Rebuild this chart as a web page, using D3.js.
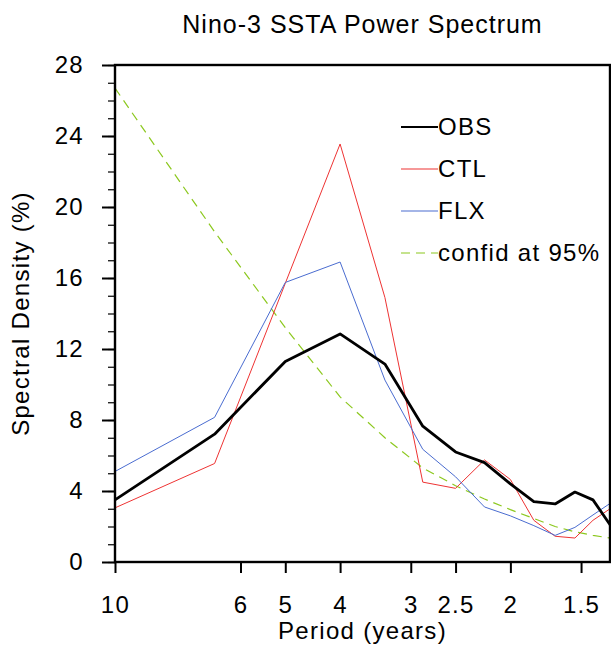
<!DOCTYPE html>
<html>
<head>
<meta charset="utf-8">
<script src="https://cdn.jsdelivr.net/npm/d3@7"></script>
<style>
  body { margin: 0; background: #fff; }
  text { font-family: "Liberation Sans", Arial, Helvetica, sans-serif; fill: #000; letter-spacing: 1.3px; }
</style>
</head>
<body>
<div id="chart"></div>
<script>
// period (years) of each spectral estimate
var periods = [10, 6.667, 5, 4, 3.333, 2.857, 2.5, 2.222, 2, 1.818, 1.667, 1.538, 1.429, 1.333];
var obs    = [3.5, 7.2, 11.3, 12.85, 11.15, 7.65, 6.2, 5.6, 4.4, 3.4, 3.27, 3.94, 3.5, 2.1];
var ctl    = [3.05, 5.55, 15.7, 23.55, 14.9, 4.5, 4.15, 5.75, 4.65, 2.35, 1.45, 1.35, 2.35, 3.0];
var flx    = [5.1, 8.15, 15.75, 16.9, 10.25, 6.35, 4.8, 3.1, 2.6, 2.05, 1.5, 1.95, 2.65, 3.3];
var confid = [26.7, 18.6, 13.2, 9.3, 7.0, 5.3, 4.3, 3.55, 2.95, 2.45, 2.0, 1.7, 1.5, 1.35];

var xTicks = [10, 6, 5, 4, 3, 2.5, 2, 1.5];
var yTicks = [0, 4, 8, 12, 16, 20, 24, 28];
var yMinor = d3.range(0, 29, 1);

var seriesNames = ["OBS", "CTL", "FLX", "confid at 95%"];

function init() {
    var width = 611, height = 657;
    var left = 115, right = 610, top = 65, bottom = 562;

    var svg = d3.select("#chart")
        .append("svg")
        .attr("width", width)
        .attr("height", height);

    // log period axis, long periods on the left
    var x = d3.scaleLog().domain([10, 1.3333]).range([left, right]);
    var y = d3.scaleLinear().domain([0, 28]).range([bottom, top]);

    svg.append("clipPath").attr("id", "plotclip")
        .append("rect")
        .attr("x", left).attr("y", top)
        .attr("width", right - left).attr("height", bottom - top);

    var series = [
        { name: seriesNames[0], values: obs,    color: "#000000", width: 2.8, dash: null },
        { name: seriesNames[1], values: ctl,    color: "#ee3333", width: 1,   dash: null },
        { name: seriesNames[2], values: flx,    color: "#4a6cd0", width: 1,   dash: null },
        { name: seriesNames[3], values: confid, color: "#8cc81e", width: 1.2, dash: "9,6" }
    ];

    var line = d3.line()
        .x((d, i) => x(periods[i]))
        .y(d => y(d));

    var plot = svg.append("g").attr("clip-path", "url(#plotclip)");
    // confidence curve first, then the spectra
    [3, 1, 2, 0].forEach(k => {
        var s = series[k];
        plot.append("path")
            .datum(s.values)
            .attr("d", line)
            .attr("fill", "none")
            .attr("stroke", s.color)
            .attr("stroke-width", s.width)
            .attr("stroke-dasharray", s.dash)
            .attr("stroke-linejoin", "round");
    });

    // left axis with minor ticks
    var yMinorAxis = d3.axisLeft(y).tickValues(yMinor).tickSize(7).tickFormat("");
    svg.append("g")
        .attr("transform", `translate(${left},0)`)
        .call(yMinorAxis)
        .call(g => g.select(".domain").remove())
        .selectAll("line").attr("stroke", "#000").attr("stroke-width", 1.2);

    var yAxis = d3.axisLeft(y).tickValues(yTicks).tickSize(13).tickPadding(18);
    svg.append("g")
        .attr("transform", `translate(${left},0)`)
        .call(yAxis)
        .call(g => g.select(".domain").remove())
        .call(g => g.selectAll("line").attr("stroke", "#000").attr("stroke-width", 2))
        .call(g => g.selectAll("text").style("font-size", "24px").attr("fill", "#000"));

    var xAxis = d3.axisBottom(x).tickValues(xTicks).tickSize(11).tickPadding(23)
        .tickFormat(d => String(d));
    svg.append("g")
        .attr("transform", `translate(0,${bottom})`)
        .call(xAxis)
        .call(g => g.select(".domain").remove())
        .call(g => g.selectAll("line").attr("stroke", "#000").attr("stroke-width", 2))
        .call(g => g.selectAll("text").style("font-size", "24px").attr("fill", "#000"));

    // frame
    svg.append("rect")
        .attr("x", left).attr("y", top)
        .attr("width", right - left).attr("height", bottom - top)
        .attr("fill", "none")
        .attr("stroke", "#000")
        .attr("stroke-width", 2.4);

    // legend
    var legend = svg.append("g").attr("transform", "translate(401,127)");
    series.forEach((s, i) => {
        var row = legend.append("g").attr("transform", `translate(0,${i * 42})`);
        row.append("line")
            .attr("x1", 0).attr("x2", 37)
            .attr("stroke", s.color)
            .attr("stroke-width", i === 0 ? 2 : 1.2)
            .attr("stroke-dasharray", s.dash);
        row.append("text")
            .attr("x", 37)
            .attr("dy", "0.35em")
            .style("font-size", "24px")
            .text(s.name);
    });

    // titles
    svg.append("text")
        .attr("x", (left + right) / 2)
        .attr("y", 33)
        .attr("text-anchor", "middle")
        .style("font-size", "25px")
        .style("letter-spacing", "1px")
        .text("Nino-3 SSTA Power Spectrum");

    svg.append("text")
        .attr("x", (left + right) / 2)
        .attr("y", 639)
        .attr("text-anchor", "middle")
        .style("font-size", "24px")
        .text("Period (years)");

    svg.append("text")
        .attr("transform", `translate(29,${(top + bottom) / 2}) rotate(-90)`)
        .attr("text-anchor", "middle")
        .style("font-size", "24px")
        .text("Spectral Density (%)");
}

window.onload = init;
</script>
</body>
</html>
